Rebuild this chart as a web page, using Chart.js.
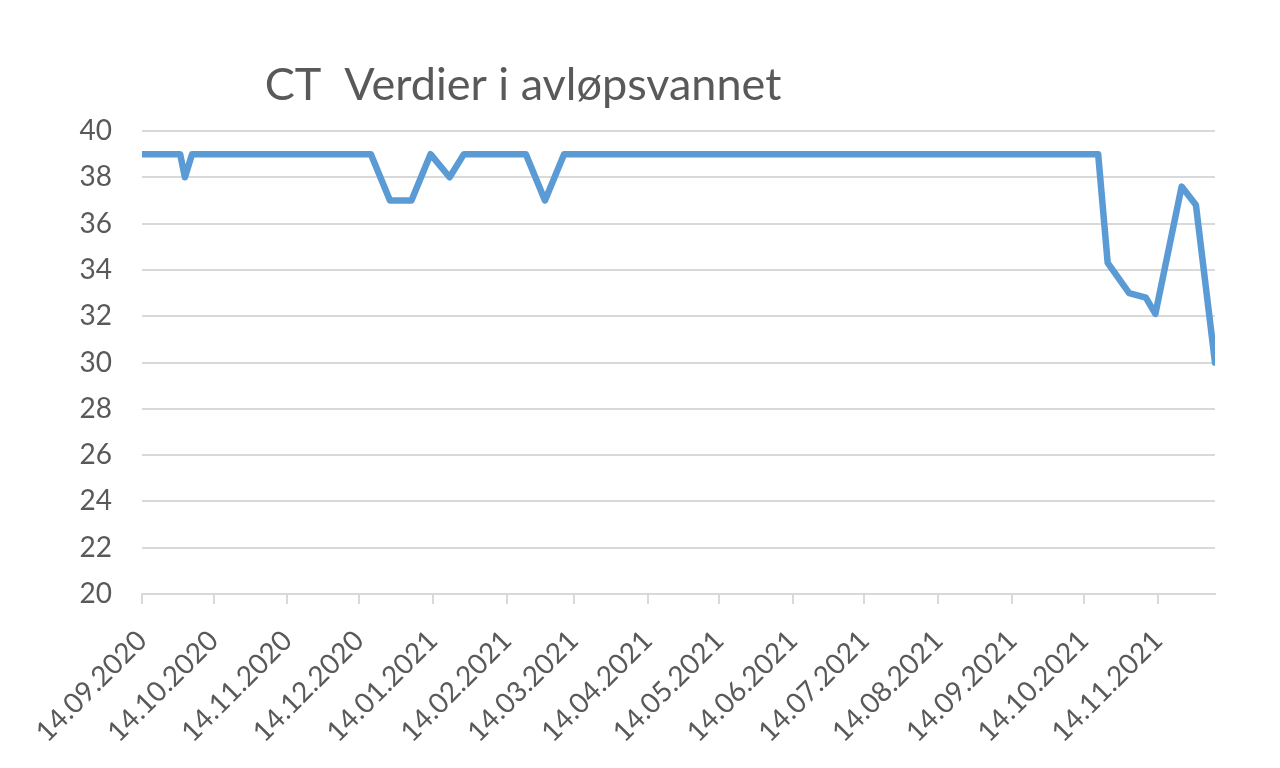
<!DOCTYPE html>
<html>
<head>
<meta charset="utf-8">
<script src="https://cdn.jsdelivr.net/npm/chart.js@4.4.1/dist/chart.umd.min.js"></script>
<style>
  html, body { margin: 0; padding: 0; background: #fff; }
  canvas { display: block; }
</style>
</head>
<body>
<canvas id="chart" width="1280" height="768"></canvas>
<script>
const chartTitle = 'CT  Verdier i avløpsvannet';

// sample dates and CT values
const sampleDates = [
  '14.09.2020', '30.09.2020', '02.10.2020', '05.10.2020',
  '19.12.2020', '27.12.2020', '05.01.2021', '13.01.2021', '21.01.2021', '27.01.2021',
  '22.02.2021', '02.03.2021', '10.03.2021',
  '20.10.2021', '24.10.2021', '02.11.2021', '09.11.2021', '13.11.2021',
  '24.11.2021', '30.11.2021', '08.12.2021'
];
const ctValues = [
  39, 39, 38, 39,
  39, 37, 37, 39, 38, 39,
  39, 37, 39,
  39, 34.3, 33.0, 32.8, 32.1,
  37.6, 36.8, 30.0
];

const tickDates = [
  '14.09.2020', '14.10.2020', '14.11.2020', '14.12.2020', '14.01.2021',
  '14.02.2021', '14.03.2021', '14.04.2021', '14.05.2021', '14.06.2021',
  '14.07.2021', '14.08.2021', '14.09.2021', '14.10.2021', '14.11.2021'
];
const axisStart = '14.09.2020';
const axisEnd = '08.12.2021';
const yMin = 20;
const yMax = 40;
const yStep = 2;

const toUtc = (s) => {
  const [d, m, y] = s.split('.').map(Number);
  return Date.UTC(y, m - 1, d);
};
const dayOf = (s) => Math.round((toUtc(s) - toUtc(axisStart)) / 86400000);

const points = sampleDates.map((d, i) => ({ x: dayOf(d), y: ctValues[i] }));
const tickDays = tickDates.map(dayOf);

const textColor = '#595959';
const gridColor = '#d9d9d9';
const fontFamily = 'Lato, "Open Sans", sans-serif';

const titlePlugin = {
  id: 'excelTitle',
  afterDraw(chart) {
    const ctx = chart.ctx;
    ctx.save();
    ctx.font = '45px ' + fontFamily;
    ctx.fillStyle = textColor;
    ctx.textAlign = 'center';
    ctx.textBaseline = 'alphabetic';
    ctx.fillText(chartTitle, 523, 100);
    ctx.restore();
  }
};

new Chart(document.getElementById('chart').getContext('2d'), {
  type: 'line',
  data: {
    datasets: [{
      label: 'CT',
      data: points,
      borderColor: '#5B9BD5',
      borderWidth: 6.5,
      borderJoinStyle: 'round',
      borderCapStyle: 'round',
      pointRadius: 0,
      tension: 0,
      fill: false
    }]
  },
  options: {
    responsive: false,
    animation: false,
    layout: {
      padding: { top: 131, right: 65, left: 0, bottom: 0 }
    },
    plugins: {
      legend: { display: false },
      title: { display: false },
      tooltip: { enabled: false }
    },
    scales: {
      x: {
        type: 'linear',
        min: 0,
        max: dayOf(axisEnd),
        afterBuildTicks: (scale) => {
          scale.ticks = tickDays.map((v) => ({ value: v }));
        },
        afterFit: (scale) => {
          scale.height = 174;
        },
        ticks: {
          autoSkip: false,
          maxRotation: 45,
          minRotation: 45,
          padding: 20,
          color: textColor,
          font: { family: fontFamily, size: 28 },
          callback: (value) => {
            const i = tickDays.indexOf(value);
            return i >= 0 ? tickDates[i] : '';
          }
        },
        grid: {
          drawOnChartArea: false,
          drawTicks: true,
          tickLength: 10,
          color: gridColor,
          lineWidth: 2
        },
        border: { display: true, color: gridColor, width: 2 }
      },
      y: {
        min: yMin,
        max: yMax,
        afterFit: (scale) => {
          scale.width = 142;
        },
        ticks: {
          stepSize: yStep,
          padding: 30,
          color: textColor,
          font: { family: fontFamily, size: 28 }
        },
        grid: {
          drawTicks: false,
          color: gridColor,
          lineWidth: 2
        },
        border: { display: false }
      }
    }
  },
  plugins: [titlePlugin]
});
</script>
</body>
</html>
